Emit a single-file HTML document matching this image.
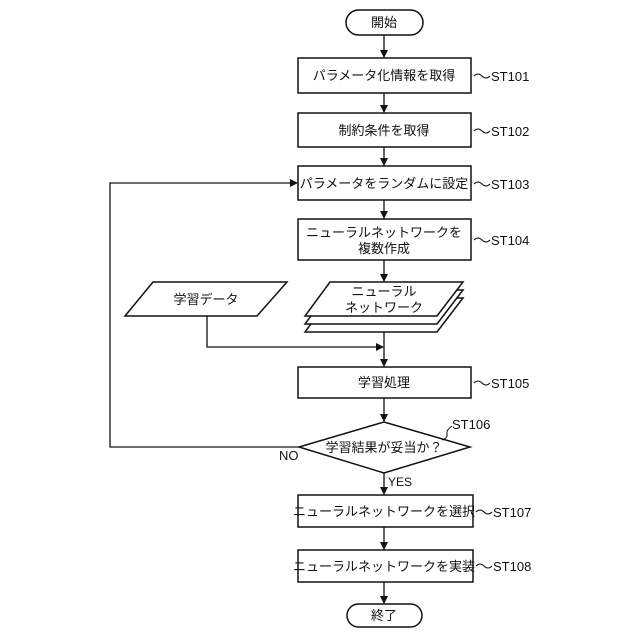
<!DOCTYPE html>
<html><head><meta charset="utf-8"><style>
html,body{margin:0;padding:0;background:#fff;}
svg{display:block;}
text{font-family:"Liberation Sans","Noto Sans CJK JP",sans-serif;fill:#111;}
</style></head><body>
<svg width="640" height="640" viewBox="0 0 640 640" xmlns="http://www.w3.org/2000/svg">
<defs><marker id="a" markerWidth="8" markerHeight="8" refX="7" refY="4" orient="auto" markerUnits="userSpaceOnUse"><path d="M0,0 L8,4 L0,8 Z" fill="#111"/></marker></defs>
<g stroke="#111" stroke-width="1.5" fill="#fff">
<rect x="346" y="10" width="77" height="25" rx="12.5"/>
<rect x="298" y="58" width="173" height="35"/>
<rect x="298" y="113" width="173" height="34"/>
<rect x="298" y="166" width="173" height="34"/>
<rect x="298" y="219" width="173" height="41"/>
<polygon points="330,298 463,298 437,332 305,332"/>
<polygon points="330,290 463,290 437,324 305,324"/>
<polygon points="330,282 463,282 437,316 305,316"/>
<polygon points="153,282 287,282 257,316 125,316"/>
<rect x="298" y="367" width="173" height="31"/>
<polygon points="384,422 470,447 384,473 299,447"/>
<rect x="298" y="495" width="175" height="32"/>
<rect x="298" y="550" width="175" height="32"/>
<rect x="347" y="604" width="75" height="23" rx="11.5"/>
</g>
<g stroke="#111" stroke-width="1.3" fill="none" marker-end="url(#a)">
<line x1="384" y1="35" x2="384" y2="57"/>
<line x1="384" y1="93" x2="384" y2="112"/>
<line x1="384" y1="147" x2="384" y2="165"/>
<line x1="384" y1="200" x2="384" y2="218"/>
<line x1="384" y1="260" x2="384" y2="281"/>
<line x1="384" y1="332" x2="384" y2="366"/>
<polyline points="207,316 207,347 383,347"/>
<line x1="384" y1="398" x2="384" y2="421"/>
<polyline points="299,447 110,447 110,183 297,183"/>
<line x1="384" y1="473" x2="384" y2="494"/>
<line x1="384" y1="527" x2="384" y2="549"/>
<line x1="384" y1="582" x2="384" y2="603"/>
</g>
<g stroke="#111" stroke-width="1" fill="none">
<path d="M474,76 q4,-4 8,0 t8,0"/>
<path d="M474,131 q4,-4 8,0 t8,0"/>
<path d="M474,184 q4,-4 8,0 t8,0"/>
<path d="M474,240 q4,-4 8,0 t8,0"/>
<path d="M474,383 q4,-4 8,0 t8,0"/>
<path d="M442,440 q6,-2 5,-6 t5,-8"/>
<path d="M476,512 q4,-4 8,0 t8,0"/>
<path d="M476,566 q4,-4 8,0 t8,0"/>
</g>
<g font-size="13" text-anchor="middle">
<text x="384" y="27">開始</text>
<text x="384" y="80">パラメータ化情報を取得</text>
<text x="384" y="135">制約条件を取得</text>
<text x="384" y="188">パラメータをランダムに設定</text>
<text x="384" y="237">ニューラルネットワークを</text>
<text x="384" y="253">複数作成</text>
<text x="384" y="296">ニューラル</text>
<text x="384" y="312">ネットワーク</text>
<text x="206" y="304">学習データ</text>
<text x="384" y="387">学習処理</text>
<text x="384" y="452">学習結果が妥当か？</text>
<text x="384" y="516">ニューラルネットワークを選択</text>
<text x="384" y="571">ニューラルネットワークを実装</text>
<text x="384" y="620">終了</text>
</g>
<g font-size="13">
<text x="491" y="81">ST101</text>
<text x="491" y="136">ST102</text>
<text x="491" y="189">ST103</text>
<text x="491" y="245">ST104</text>
<text x="491" y="388">ST105</text>
<text x="452" y="429">ST106</text>
<text x="493" y="517">ST107</text>
<text x="493" y="571">ST108</text>
<text x="279" y="460">NO</text>
<text x="388" y="486" font-size="12">YES</text>
</g>
</svg>
</body></html>
